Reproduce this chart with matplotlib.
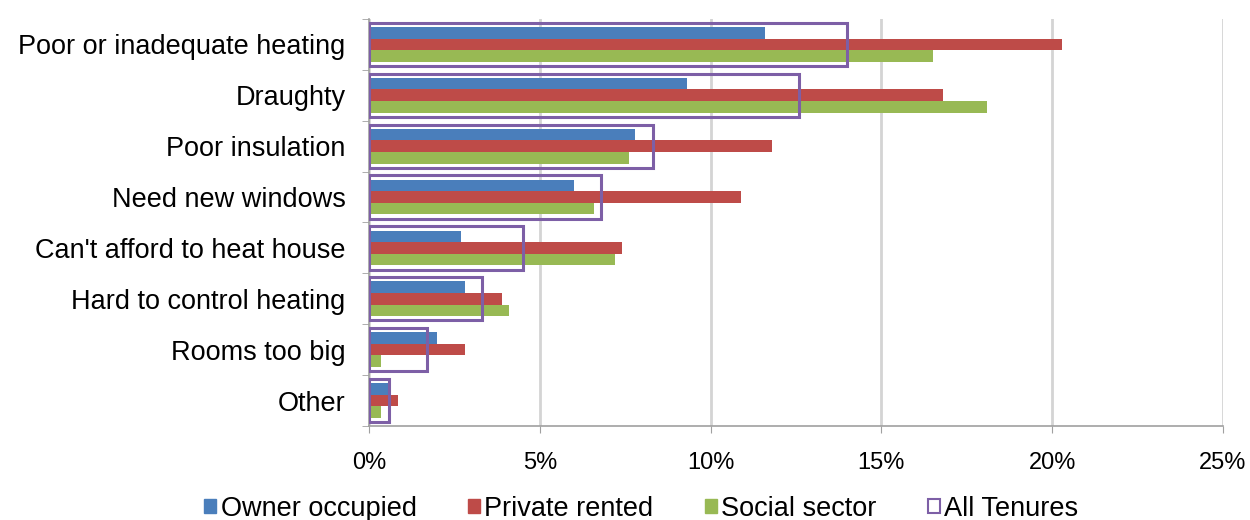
import matplotlib.pyplot as plt
from matplotlib.patches import Patch
import numpy as np

plt.rc("font", family="Liberation Sans")

categories = ["Poor or inadequate heating", "Draughty", "Poor insulation",
              "Need new windows", "Can't afford to heat house",
              "Hard to control heating", "Rooms too big", "Other"]
owner = [11.6, 9.3, 7.8, 6.0, 2.7, 2.8, 2.0, 0.65]
private = [20.3, 16.8, 11.8, 10.9, 7.4, 3.9, 2.8, 0.85]
social = [16.5, 18.1, 7.6, 6.6, 7.2, 4.1, 0.35, 0.35]
all_tenures = [14.0, 12.6, 8.3, 6.8, 4.5, 3.3, 1.7, 0.6]
xticks = [0, 5, 10, 15, 20, 25]

bcol = '#4a7ebb'
rcol = '#be4b48'
gcol = '#98b954'
pcol = '#7d5fa6'

fig = plt.figure(figsize=(12.5, 5.2), dpi=100)
ax = fig.add_axes([0.2952, 0.1808, 0.6832, 0.7827])

y = np.arange(len(categories))
h = 0.228
ax.barh(y - h, owner, height=h, color=bcol, zorder=3)
ax.barh(y, private, height=h, color=rcol, zorder=3)
ax.barh(y + h, social, height=h, color=gcol, zorder=3)
ax.barh(y, all_tenures, height=0.85, facecolor='none', edgecolor=pcol,
        linewidth=2.2, zorder=4)

ax.set_xlim(0, 25)
ax.set_ylim(len(categories) - 0.5, -0.5)
ax.set_xticks(xticks)
ax.set_xticklabels(["%d%%" % t for t in xticks], fontsize=17)
ax.set_yticks(y)
ax.set_yticklabels(categories, fontsize=19.5)
ax.set_yticks(np.arange(len(categories) + 1) - 0.5, minor=True)
ax.tick_params(axis='y', which='major', length=0, pad=17)
ax.tick_params(axis='y', which='minor', length=5, color='#a0a0a0')
ax.tick_params(axis='x', length=5, color='#a0a0a0', pad=14)

ax.grid(axis='x', color='#d4d4d4', linewidth=2, zorder=0)
for s in ['top', 'right']:
    ax.spines[s].set_visible(False)
for s in ['left', 'bottom']:
    ax.spines[s].set_color('#a0a0a0')
    ax.spines[s].set_linewidth(1.2)

handles = [Patch(facecolor=bcol, edgecolor=bcol),
           Patch(facecolor=rcol, edgecolor=rcol),
           Patch(facecolor=gcol, edgecolor=gcol),
           Patch(facecolor='white', edgecolor=pcol, linewidth=1.5)]
labels = ["Owner occupied", "Private rented", "Social sector", "All Tenures"]
fig.legend(handles, labels, loc='center', bbox_to_anchor=(0.513, 0.022),
           ncol=4, frameon=False, fontsize=19.5, handlelength=0.45,
           handleheight=0.45, handletextpad=0.15, columnspacing=1.9)

fig.savefig("out.png", dpi=100)
